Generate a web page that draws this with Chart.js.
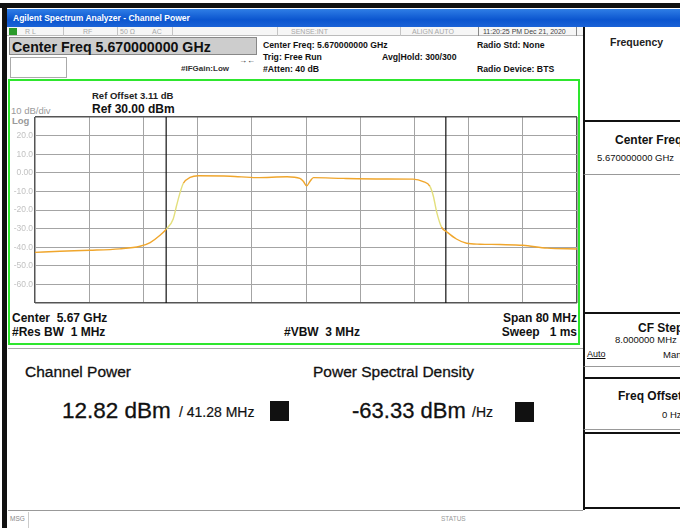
<!DOCTYPE html>
<html>
<head>
<meta charset="utf-8">
<title>Channel Power</title>
<script src="https://cdn.jsdelivr.net/npm/chart.js@4.4.1/dist/chart.umd.min.js"></script>
<style>
    * { box-sizing: border-box; }
    html, body { margin: 0; padding: 0; }
    body {
        width: 680px; height: 528px; overflow: hidden; position: relative;
        background: #fff; color: #111;
        font-family: "Liberation Sans", Arial, sans-serif;
    }
    .abs { position: absolute; white-space: nowrap; line-height: 1; }
    .b { font-weight: bold; }
    .res { color: #111; -webkit-text-stroke: 0.3px #111; }

    /* window chrome */
    .topband { left: 0; top: 3px; width: 680px; height: 5px; background: #111; }
    .leftband { left: 2px; top: 3px; width: 5px; height: 525px; background: #111; }
    .titlebar {
        left: 7px; top: 9px; width: 673px; height: 18px;
        background: linear-gradient(#2f7ee6, #0b55cf 60%, #1a62d6);
        color: #fff; font-size: 8.5px; font-weight: bold; padding: 5px 0 0 6px;
    }
    .statusrow {
        left: 7px; top: 27px; width: 576px; height: 9px;
        background: #f6f6f6; border-bottom: 1px solid #bbb;
    }
    .statusrow span { position: absolute; top: 1px; font-size: 7px; color: #a8a8a8; }
    .cell-sep { position: absolute; top: 0; width: 1px; height: 9px; background: #c4c4c4; }

    /* softkey panel */
    .panel { left: 583px; top: 27px; width: 97px; height: 483px; border-left: 2px solid #111; background: #fff; }
    .key { position: absolute; left: 583px; width: 97px; border-top: 2px solid #111; border-left: 2px solid #111; border-bottom: 1px solid #999; overflow: hidden; }
    .key div { position: absolute; white-space: nowrap; line-height: 1; }

    /* measurement frame */
    .green { left: 8px; top: 79px; width: 572px; height: 266px; border: 2.5px solid #2ee62e; }
</style>
</head>
<body>
<!-- ============================================
     Window chrome + header
     ============================================ -->
<div class="abs topband"></div>
<div class="abs leftband"></div>
<div class="abs titlebar">Agilent Spectrum Analyzer - Channel Power</div>

<div class="abs statusrow">
    <div style="position:absolute;left:2px;top:1px;width:8px;height:7px;background:#2a9a2a;"></div>
    <span style="left:18px;">R L</span>
    <div class="cell-sep" style="left:56px;"></div>
    <span style="left:76px;">RF</span>
    <div class="cell-sep" style="left:110px;"></div>
    <span style="left:113px;">50 Ω</span>
    <span style="left:145px;">AC</span>
    <div class="cell-sep" style="left:165px;"></div>
    <div class="cell-sep" style="left:270px;"></div>
    <span style="left:284px;">SENSE:INT</span>
    <div class="cell-sep" style="left:393px;"></div>
    <span style="left:405px;">ALIGN AUTO</span>
    <div class="cell-sep" style="left:471px;background:#888;"></div>
    <span style="left:476px;color:#444;">11:20:25 PM Dec 21, 2020</span>
    <div class="cell-sep" style="left:569px;background:#888;"></div>
</div>

<div class="abs" style="left:9px;top:37px;width:248px;height:18px;background:#cdcdcd;border:1px solid #888;"></div>
<div class="abs b" style="left:12px;top:40px;font-size:14.2px;color:#111;">Center Freq 5.670000000 GHz</div>
<div class="abs" style="left:10px;top:57px;width:57px;height:21px;border:1px solid #aaa;background:#fff;"></div>
<div class="abs b" style="left:181px;top:65px;font-size:8px;color:#333;">#IFGain:Low</div>
<div class="abs" style="left:239px;top:57px;font-size:8px;color:#222;">→←</div>
<div class="abs b" style="left:263px;top:41px;font-size:8.7px;">Center Freq: 5.670000000 GHz</div>
<div class="abs b" style="left:263px;top:53px;font-size:8.7px;">Trig: Free Run</div>
<div class="abs b" style="left:382px;top:53px;font-size:8.7px;">Avg|Hold: 300/300</div>
<div class="abs b" style="left:263px;top:65px;font-size:8.7px;">#Atten: 40 dB</div>
<div class="abs b" style="left:477px;top:41px;font-size:8.7px;">Radio Std: None</div>
<div class="abs b" style="left:477px;top:65px;font-size:8.7px;">Radio Device: BTS</div>

<!-- ============================================
     Softkey panel
     ============================================ -->
<div class="abs panel"></div>
<div class="abs b" style="left:610px;top:37px;font-size:10.5px;color:#222;">Frequency</div>
<div class="key" style="top:120px;height:55px;">
    <div class="b" style="left:30px;top:12px;font-size:12px;">Center Freq</div>
    <div style="left:12px;top:31px;font-size:9.5px;">5.670000000 GHz</div>
</div>
<div class="key" style="top:312px;height:55px;">
    <div class="b" style="left:53px;top:8px;font-size:12px;">CF Step</div>
    <div style="left:30px;top:21px;font-size:9.5px;">8.000000 MHz</div>
    <div style="left:2px;top:36px;font-size:9px;text-decoration:underline;">Auto</div>
    <div style="left:78px;top:36px;font-size:9.5px;">Man</div>
</div>
<div class="key" style="top:377px;height:53px;">
    <div class="b" style="left:33px;top:11px;font-size:12px;">Freq Offset</div>
    <div style="left:77px;top:31px;font-size:9.5px;">0 Hz</div>
</div>
<div class="key" style="top:432px;height:77px;border-bottom:2px solid #111;"></div>

<!-- ============================================
     Trace window
     ============================================ -->
<div class="abs green"></div>
<div class="abs b" style="left:92px;top:91px;font-size:9.5px;color:#222;">Ref Offset 3.11 dB</div>
<div class="abs b" style="left:92px;top:103px;font-size:12px;color:#111;">Ref 30.00 dBm</div>
<div class="abs" style="left:11px;top:106px;font-size:9.5px;color:#9a9a9a;">10 dB/div</div>
<div class="abs b" style="left:12px;top:116px;font-size:9.5px;color:#9a9a9a;">Log</div>

<div class="abs" style="left:8px;top:110px;width:572px;height:200px;">
    <canvas id="trace"></canvas>
</div>

<div class="abs b" style="left:12px;top:312px;font-size:12px;">Center&nbsp; 5.67 GHz</div>
<div class="abs b" style="left:12px;top:326px;font-size:12px;">#Res BW&nbsp; 1 MHz</div>
<div class="abs b" style="left:284px;top:326px;font-size:12px;">#VBW&nbsp; 3 MHz</div>
<div class="abs b" style="right:103px;top:312px;font-size:12px;">Span 80 MHz</div>
<div class="abs b" style="right:103px;top:326px;font-size:12px;">Sweep&nbsp;&nbsp; 1 ms</div>

<div class="abs" style="left:8px;top:348px;width:575px;height:1px;background:#aaa;"></div>

<!-- ============================================
     Results
     ============================================ -->
<div class="abs res" style="left:25px;top:364px;font-size:15.5px;">Channel Power</div>
<div class="abs res" style="left:313px;top:364px;font-size:15.5px;">Power Spectral Density</div>
<div class="abs res" style="left:62px;top:400px;font-size:22.5px;">12.82 dBm</div>
<div class="abs res" style="left:179px;top:405px;font-size:14px;-webkit-text-stroke:0.2px #111;">/ 41.28 MHz</div>
<div class="abs" style="left:270px;top:401px;width:19px;height:20px;background:#111;"></div>
<div class="abs res" style="left:352px;top:400px;font-size:22px;">-63.33 dBm</div>
<div class="abs res" style="left:472px;top:405px;font-size:14px;-webkit-text-stroke:0.2px #111;">/Hz</div>
<div class="abs" style="left:515px;top:402px;width:19px;height:20px;background:#111;"></div>

<!-- status bar -->
<div class="abs" style="left:8px;top:510px;width:575px;height:1px;background:#999;"></div>
<div class="abs" style="left:10px;top:516px;font-size:6.5px;color:#888;">MSG</div>
<div class="abs" style="left:28px;top:512px;width:1px;height:16px;background:#ccc;"></div>
<div class="abs" style="left:441px;top:516px;font-size:6.5px;color:#999;">STATUS</div>

<script>
/* ============================================
   Data (x = offset from center, MHz)
   ============================================ */
const CENTER_GHZ = 5.67;
const freqOffsetMHz = [
    -40, -36.3, -31.9, -27.5, -24.5, -23.0, -21.5, -20.6, -19.6, -19.1,
    -18.6, -18.1, -17.1, -15.9, -11.2, -7.3, -2.8, -0.9, -0.4, 0.1,
    0.6, 1.1, 5.5, 11.4, 15.8, 17.3, 18.3, 18.8, 19.3, 20.0,
    20.8, 22.2, 23.7, 25.7, 28.6, 32.0, 35.6, 40
];
const traceDbm = [
    -42.8, -42.2, -41.7, -40.9, -39.5, -37.5, -33.5, -30.2, -24.8, -17.6,
    -10.8, -5.6, -2.5, -1.6, -1.8, -2.6, -2.1, -3.0, -4.5, -7.0,
    -4.5, -2.6, -3.0, -3.3, -3.4, -4.7, -7.3, -12.6, -21.3, -29.2,
    -31.8, -35.6, -37.9, -38.4, -38.6, -39.0, -40.5, -41.0
];
const channelEdgesMHz = [-20.64, 20.64];
const yTickValues = [20, 10, 0, -10, -20, -30, -40, -50, -60];
const yTickLabels = ['20.0', '10.0', '0.00', '-10.0', '-20.0', '-30.0', '-40.0', '-50.0', '-60.0'];

const TRACE = '#f0a62c';
const TRACE_EDGE = '#e3df7c';
const EDGE = '#555';

function edgeLines() {
    return channelEdgesMHz.map(f => ({
        data: [{ x: f, y: 30 }, { x: f, y: -70 }],
        borderColor: '#111',
        borderWidth: 1.2,
        pointRadius: 0
    }));
}

new Chart(document.getElementById('trace'), {
    type: 'line',
    data: {
        datasets: [
            {
                data: freqOffsetMHz.map((f, i) => ({ x: f, y: traceDbm[i] })),
                borderColor: TRACE,
                borderWidth: 1.4,
                pointRadius: 0,
                cubicInterpolationMode: 'monotone',
                segment: {
                    // steep skirts show up lighter/yellower on the analyzer
                    borderColor: ctx => Math.abs(ctx.p1.parsed.y - ctx.p0.parsed.y) > 4 ? TRACE_EDGE : TRACE
                }
            },
            ...edgeLines()
        ]
    },
    options: {
        responsive: true,
        maintainAspectRatio: false,
        animation: false,
        layout: { padding: { top: 7, right: 3, bottom: 2, left: 0 } },
        plugins: { legend: { display: false }, tooltip: { enabled: false } },
        scales: {
            x: {
                type: 'linear',
                min: -40,
                max: 40,
                ticks: { display: false, stepSize: 8 },
                grid: {
                    drawTicks: false,
                    color: c => Math.abs(c.tick.value) === 40 ? EDGE : '#a4a4a4',
                    lineWidth: c => Math.abs(c.tick.value) === 40 ? 1.5 : 1
                },
                border: { display: false },
                afterFit: s => { s.height = 0; }
            },
            y: {
                min: -70,
                max: 30,
                ticks: {
                    stepSize: 10,
                    autoSkip: false,
                    padding: 2,
                    color: '#c2c2c2',
                    font: { family: 'Liberation Sans', size: 8.5 },
                    callback: v => {
                        const i = yTickValues.indexOf(v);
                        return i < 0 ? '' : yTickLabels[i];
                    }
                },
                grid: {
                    drawTicks: false,
                    color: c => (c.tick.value === 30 || c.tick.value === -70) ? EDGE : '#a4a4a4',
                    lineWidth: c => (c.tick.value === 30 || c.tick.value === -70) ? 1.5 : 1
                },
                border: { display: false },
                afterFit: s => { s.width = 27; }
            }
        }
    }
});
</script>
</body>
</html>
